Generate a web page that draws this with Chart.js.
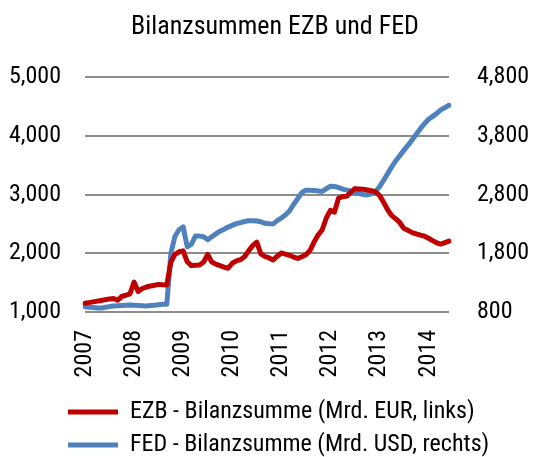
<!DOCTYPE html>
<html><head><meta charset="utf-8">
<script src="https://cdn.jsdelivr.net/npm/chart.js@4"></script>
<style>html,body{margin:0;padding:0;background:#fff}</style>
</head><body>
<canvas id="c" width="535" height="457"></canvas>
<script>
// Year tick labels (one per 12 monthly categories)
const yearLabels = ['2007','2008','2009','2010','2011','2012','2013','2014'];
// Monthly categories Jan 2007 .. Jun 2014
const months = [];
for (let y = 2007; y <= 2014; y++) {
  for (let m = 1; m <= 12; m++) {
    if (y === 2014 && m > 6) break;
    months.push(y + '-' + String(m).padStart(2, '0'));
  }
}
// EZB balance sheet total (bn EUR, left axis)
const ezb = [1148,1160,1172,1185,1197,1210,1222,1230,1200,1265,1285,1310,
  1510,1350,1400,1425,1442,1456,1470,1462,1460,1850,1980,2025,
  2040,1855,1790,1795,1800,1850,1980,1850,1815,1790,1765,1745,
  1830,1870,1890,1940,2040,2130,2190,1990,1945,1920,1885,1950,
  2005,1985,1965,1935,1912,1940,1975,2045,2190,2310,2400,2600,
  2730,2700,2940,2965,2970,3040,3100,3095,3090,3078,3065,3046,
  2985,2870,2740,2640,2585,2520,2420,2390,2352,2330,2310,2290,
  2255,2215,2178,2156,2180,2207];
// FED balance sheet total (bn USD, right axis)
const fed = [890,880,875,868,866,880,892,902,906,911,915,919,
  915,910,906,902,909,916,924,931,930,1800,2090,2200,
  2250,1910,1950,2092,2092,2080,2030,2080,2130,2175,2210,2245,
  2275,2305,2320,2340,2352,2352,2350,2335,2310,2302,2300,2355,
  2400,2450,2520,2630,2730,2830,2874,2874,2870,2860,2850,2900,
  2940,2935,2920,2891,2875,2857,2835,2818,2800,2792,2812,2850,
  2930,3040,3155,3270,3375,3465,3555,3640,3730,3825,3920,4005,
  4080,4130,4180,4240,4280,4319];
const seriesNames = ['EZB - Bilanzsumme (Mrd. EUR, links)', 'FED - Bilanzsumme (Mrd. USD, rechts)'];
const titleText = 'Bilanzsummen EZB und FED';

Chart.defaults.font.family = "'Roboto Condensed','Liberation Sans Narrow','DejaVu Sans Condensed',sans-serif";
Chart.defaults.color = '#000';
const fs = 24;       // tick / legend font size
const tfs = 26;      // title font size
const legPad = 33 - fs;

const blockPos = {
  id: 'blockPos',
  afterUpdate(chart) {
    if (chart.legend) { chart.legend.left = 59; chart.legend.top = 412 - legPad - fs / 2; }
    if (chart.titleBlock) { chart.titleBlock.left = 15; }
  }
};

new Chart(document.getElementById('c'), {
  type: 'line',
  data: {
    labels: months,
    datasets: [
      { label: seriesNames[0], data: ezb, yAxisID: 'y', borderColor: '#C00000', backgroundColor: '#C00000',
        borderWidth: 5, pointRadius: 0, borderCapStyle: 'round', borderJoinStyle: 'round', tension: 0 },
      { label: seriesNames[1], data: fed, yAxisID: 'y1', borderColor: '#4F81BD', backgroundColor: '#4F81BD',
        borderWidth: 5, pointRadius: 0, borderCapStyle: 'round', borderJoinStyle: 'round', tension: 0 }
    ]
  },
  options: {
    responsive: false,
    animation: false,
    layout: { padding: 0 },
    plugins: {
      title: { display: true, text: titleText, font: { size: tfs, weight: 'normal', lineHeight: 1.2 }, color: '#000',
        padding: { top: 27.5 - tfs * 0.6, bottom: 77 - (27.5 + tfs * 0.6) } },
      legend: { position: 'bottom', align: 'start',
        labels: { usePointStyle: true, pointStyle: 'line', pointStyleWidth: 50, font: { size: fs }, color: '#000', padding: legPad } },
      tooltip: { enabled: false }
    },
    scales: {
      x: {
        type: 'category',
        grid: { display: false, drawTicks: false },
        border: { display: false },
        ticks: { autoSkip: false, minRotation: 90, maxRotation: 90, padding: 18, font: { size: fs },
          callback: (v, i) => (i % 12 === 0 ? yearLabels[i / 12] : null) },
        afterFit: s => { s.height = 457 - 312 - (2 * (fs + legPad) + 10); }
      },
      y: {
        position: 'left', min: 1000, max: 5000,
        grid: { color: '#8c8c8c', lineWidth: 2, drawTicks: false },
        border: { display: false },
        ticks: { stepSize: 1000, padding: 24, font: { size: fs },
          callback: v => v.toLocaleString('en-US') },
        afterFit: s => { s.width = 85; }
      },
      y1: {
        position: 'right', min: 800, max: 4800,
        grid: { display: false, drawTicks: false },
        border: { display: false },
        ticks: { stepSize: 1000, padding: 28, font: { size: fs },
          callback: v => v.toLocaleString('en-US') },
        afterFit: s => { s.width = 86; }
      }
    }
  },
  plugins: [blockPos]
});
</script>
</body></html>
